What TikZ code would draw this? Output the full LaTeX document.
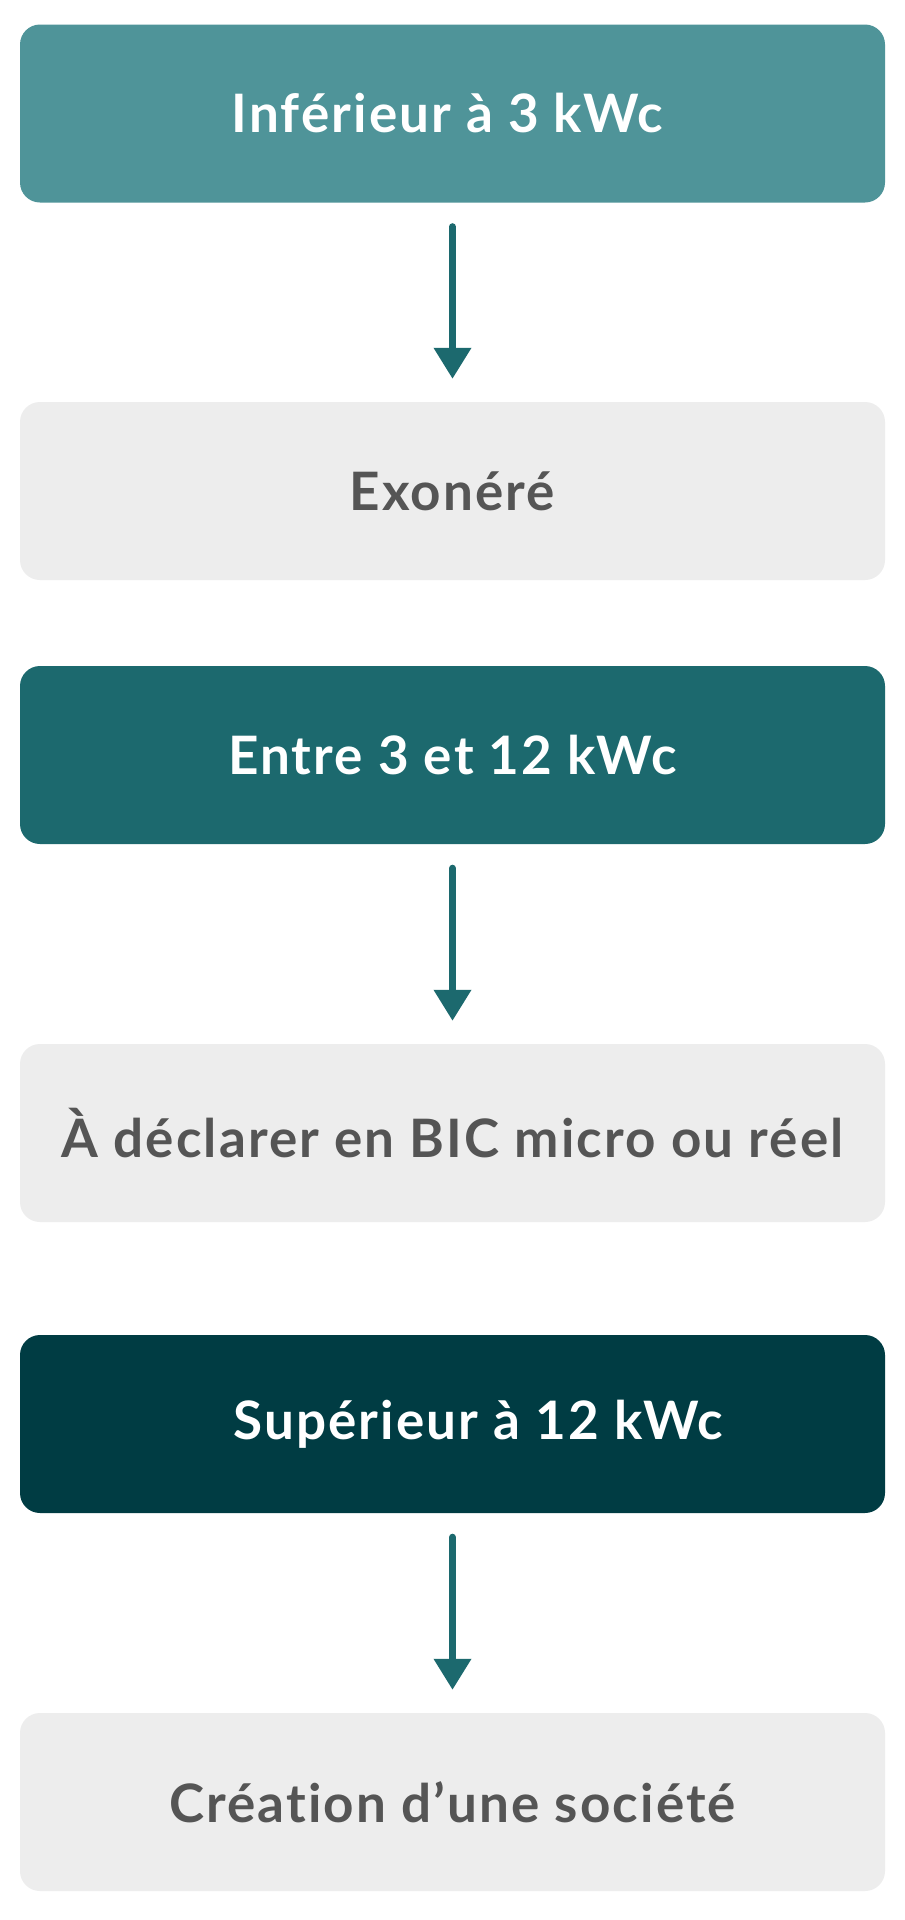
\documentclass[tikz,border=0pt]{standalone}
\usepackage{fontspec}
\setmainfont{Lato}[UprightFont=* Bold, LetterSpace=4, Ligatures=NoCommon]
\usetikzlibrary{arrows.meta}
\definecolor{tealA}{HTML}{4F9499}
\definecolor{tealB}{HTML}{1C696E}
\definecolor{tealC}{HTML}{003C43}
\definecolor{boxgray}{HTML}{EDEDED}
\definecolor{txtgray}{HTML}{555555}
\tikzset{
  box/.style={rounded corners=20pt, minimum width=865pt, minimum height=178pt, inner sep=0pt, font=\fontsize{53}{63}\selectfont},
  darkbox/.style={box, text=white},
  lightbox/.style={box, fill=boxgray, text=txtgray},
  flowarrow/.style={draw=tealB, line width=7pt, line cap=round, -{Triangle[width=36pt,length=31pt]}, tealB},
}
\begin{document}
\begin{tikzpicture}[x=1pt,y=1pt]
\useasboundingbox (0,0) rectangle (905,-1920);
\fill[white] (0,0) rectangle (905,-1920);
\node[darkbox, fill=tealA] (b1) at (452.5,-113.5) {Inférieur à 3 kWc\hspace*{10pt}};
\node[lightbox] (b2) at (452.5,-491) {Exonéré};
\node[darkbox, fill=tealB] (b3) at (452.5,-755) {Entre 3 et 12 kWc};
\node[lightbox] (b4) at (452.5,-1133) {À déclarer en BIC micro ou réel};
\node[darkbox, fill=tealC] (b5) at (452.5,-1424) {\hspace*{52pt}Supérieur à 12 kWc};
\node[lightbox] (b6) at (452.5,-1802) {Création d’une société};
\draw[flowarrow] ([yshift=-24pt]b1.south) -- ([yshift=23pt]b2.north);
\draw[flowarrow] ([yshift=-24pt]b3.south) -- ([yshift=23pt]b4.north);
\draw[flowarrow] ([yshift=-24pt]b5.south) -- ([yshift=23pt]b6.north);
\end{tikzpicture}
\end{document}
